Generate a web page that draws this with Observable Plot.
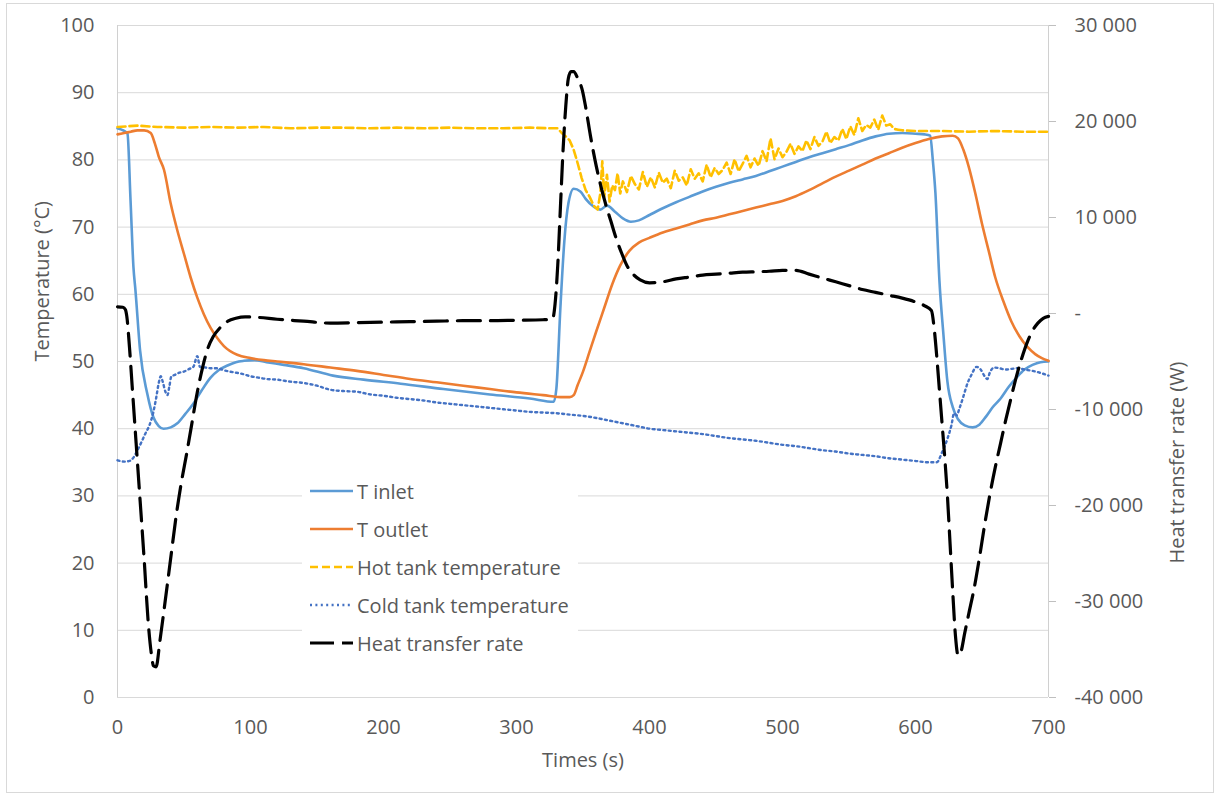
<!DOCTYPE html>
<html><head><meta charset="utf-8">
<script src="https://cdn.jsdelivr.net/npm/d3@7"></script>
<script src="https://cdn.jsdelivr.net/npm/@observablehq/plot@0.6"></script>
<style>
body{margin:0;background:#fff;}
#wrap{position:relative;width:1217px;height:796px;font-family:"Open Sans",sans-serif;color:#595959;overflow:hidden;}
#border{position:absolute;left:6px;top:3px;width:1206px;height:788px;border:1px solid #d9d9d9;pointer-events:none;}
#legend{position:absolute;left:302px;top:470px;width:276px;height:195px;background:#fff;}
.row{position:absolute;left:0;height:38px;display:flex;align-items:center;font-size:20px;white-space:nowrap;}
.row svg{margin-left:8px;margin-right:4px;}
</style></head>
<body><div id="wrap"><div id="chart"></div><div id="legend"></div><div id="border"></div></div>
<script>
// ---- axes / ticks ----
const xTicks = [0,100,200,300,400,500,600,700];
const leftTicks = [0,10,20,30,40,50,60,70,80,90,100];
const rightTicks = [-40000,-30000,-20000,-10000,0,10000,20000,30000];
const rightMin = -40000, rightMax = 30000;
const xTitle = "Times (s)";
const yLeftTitle = "Temperature (°C)";
const yRightTitle = "Heat transfer rate (W)";
const legendLabels = ["T inlet","T outlet","Hot tank temperature","Cold tank temperature","Heat transfer rate"];

// ---- T inlet ----
const inletT = [0,3,6,7.5,9.8,12,13.5,17,22.4,27,31,34.6,40,45,51,57,63,70,76,82.7,89,95,103,112,125,140,162,185,213,245,280,310,328,330,333,336,339,343,348,352,357,363,368,374,380,386,392,400,410,420,430,440,450,460,470,480,490,500,510,520,530,540,550,560,570,580,590,600,607,611,613,615,618,621,624,628,632,637,643,648,653,658,664,670,676,682,688,694,700];
const inletV = [84.7,84.5,84.2,83.9,74,64,60.6,51.6,45.2,41.7,40.4,40,40.2,40.8,42.2,43.7,45.6,47.6,48.7,49.4,49.9,50.1,50.2,49.9,49.5,49,47.9,47.3,46.7,45.9,45.1,44.5,44,46,58,68,73.5,75.7,75.3,74.2,73.2,72.6,73.2,72.3,71.3,70.8,71,71.8,72.8,73.7,74.5,75.3,76,76.6,77.1,77.6,78.3,79,79.7,80.4,81,81.6,82.2,82.9,83.5,83.9,84,83.9,83.8,83.6,80,75,62,54,47,43.2,41.4,40.5,40.2,40.6,41.8,43.2,44.5,46.2,47.6,48.8,49.5,49.9,50];

// ---- T outlet ----
const outletT = [0,5,10,15,20,25,28,31,35,40,45,50,55,60,65,70,75,80,90,100,110,120,140,160,180,200,220,240,260,280,300,320,335,340,343,346,350,355,360,366,372,378,385,392,400,410,420,430,440,450,460,470,480,490,500,510,520,530,540,550,560,570,580,590,600,610,620,628,632,636,640,645,650,655,660,666,672,678,684,690,695,700];
const outletV = [83.8,84,84.2,84.4,84.4,84,82.5,80.5,78.5,73.5,69.5,66,62.5,59.5,57,55,53.5,52.3,51,50.5,50.2,50,49.6,49.1,48.6,48,47.4,46.9,46.4,45.9,45.4,45,44.7,44.7,45,46.5,48.5,51.5,54.5,58,61.5,64.3,66.5,67.7,68.4,69.2,69.8,70.4,71,71.4,71.9,72.4,72.9,73.4,73.9,74.6,75.5,76.5,77.5,78.4,79.3,80.2,81,81.8,82.5,83.1,83.5,83.6,83.2,81.5,79,75,70.5,66.5,62.5,59,56,53.8,52.2,51.1,50.5,50.1];

// ---- Hot tank temperature ----
const hotT = [0,15,30,50,70,90,110,130,150,170,190,210,230,250,270,290,310,325,331,334,337,340,343,346,349,352,355,358,361,363,364.5,366,368,370,372,374,376,378,380,383,386,389,392,395,398,401,404,407,410,413,416,419,422,425,428,431,434,437,440,443,446,449,452,455,458,461,464,467,470,473,476,479,482,485,488,491,494,497,500,503,506,509,512,515,518,521,524,527,530,533,536,539,542,545,548,551,554,557,560,563,566,569,572,575,578,581,584,587,590,600,620,640,660,680,700];
const hotV = [84.9,85.1,84.9,84.8,84.9,84.8,84.9,84.7,84.8,84.8,84.7,84.8,84.7,84.8,84.7,84.7,84.8,84.7,84.7,84,83.5,82.9,81.5,79.5,77.3,75.5,74.5,73.2,72.6,75,79.8,74.5,77.8,73.8,76.2,75.5,78,75,76.8,75.2,77.6,76.4,75.6,78.2,76,77.4,75.9,78.1,76.6,77.2,75.8,78.4,76.9,77.4,76.2,78.6,77.2,78,76.8,79.3,77.4,78.8,77.9,78.5,79.6,77.9,80.1,78.3,79.4,80.6,78.9,80.2,79.1,81.3,79.8,83.2,80.1,81.7,80.4,81.2,82.4,80.9,82,81.3,82.9,81.6,83.4,82.1,82.7,84.2,82.5,83.4,82.9,84.6,83.1,85,83.7,86.2,84.3,85.2,84.8,86,84.5,86.6,85.1,85.3,84.6,84.5,84.4,84.3,84.3,84.2,84.3,84.2,84.2];

// ---- Cold tank temperature ----
const coldT = [0,5,9,12,15,18,21,24,27,29,31,32.5,34,36,37.6,39,40.5,43,46,50,54,57,60,62,66,70,75,80,87,93,100,106,112,120,130,140,150,160,170,180,190,200,210,220,230,240,250,260,270,280,290,300,310,320,330,340,350,360,370,380,390,400,410,420,430,440,450,460,470,480,490,500,510,520,530,540,550,560,570,580,590,600,610,616,620,624,627,629,631,633,636,639,642,646,649,652,654,656,659,663,668,672,677,682,688,694,700];
const coldV = [35.3,35.1,35.2,35.7,36.8,38,39.3,40.5,42.5,44.5,46.8,47.8,47,45.5,45,46.3,47.8,48,48.3,48.5,48.9,49.2,50.8,49.2,49.1,49,49,48.7,48.4,48.2,47.8,47.6,47.4,47.3,47,46.8,46.4,45.8,45.6,45.5,45.1,44.9,44.6,44.4,44.2,43.9,43.7,43.5,43.3,43.1,42.9,42.7,42.5,42.4,42.3,42.1,41.9,41.6,41.2,40.8,40.4,40,39.8,39.6,39.4,39.2,38.9,38.6,38.4,38.2,37.9,37.6,37.4,37.1,36.8,36.6,36.3,36.1,35.9,35.6,35.4,35.2,35,35,36.5,38.5,40.5,42.3,42,43,44.8,46.7,48,49.2,48.8,47.8,47.4,48.4,49.1,49,48.8,48.9,49,48.8,48.6,48.3,47.9];

// ---- Heat transfer rate (W, right axis) ----
const heatT = [0,4,6,7,9,11,14,17,20,23,25.5,27,29,32,36,40,44,48,52,55,60,64,68,72,77,83,89,96,105,120,140,160,180,200,220,240,260,280,300,320,327,329,331,333,335,337,339,341,343,346,349.6,352,355.6,359,363,367,371,375,379,383,387,393,400,410,420,430,440,450,460,470,480,490,500,510,520,530,540,550,560,570,580,590,600,607,612,614,616,618,620,622,624,626,628,630,632,634,637,640,644,648,652,656,660,664,668,672,676,680,684,688,692,696,700];
const heatV = [700,650,400,-300,-3500,-7500,-13500,-19500,-25500,-32000,-35500,-36700,-36800,-34000,-29800,-25500,-21200,-17600,-14600,-12200,-8200,-5600,-3600,-2400,-1500,-800,-500,-350,-400,-600,-800,-1000,-950,-900,-850,-800,-750,-750,-700,-650,-600,1000,5000,11000,17000,21500,24500,25200,25200,24500,23200,21500,18500,16000,13500,11400,9600,7800,6300,5000,4200,3500,3200,3300,3600,3800,4000,4100,4200,4300,4350,4400,4500,4500,4100,3700,3300,2900,2500,2200,1900,1600,1200,800,300,-1500,-4500,-8000,-11500,-15000,-19000,-24000,-29000,-33500,-35600,-35300,-33300,-31300,-28700,-25500,-22000,-18800,-16000,-13500,-11000,-8700,-6500,-4600,-3000,-1800,-1000,-500,-300];

// ---- helpers ----
const zip = (ts, vs) => ts.map((t, i) => ({t, v: vs[i]}));
const toTemp = w => (w - rightMin) / (rightMax - rightMin) * 100;
const fmtW = w => w === 0 ? "-" : (w < 0 ? "-" : "") + String(Math.abs(w)).replace(/\B(?=(\d{3})+(?!\d))/g, " ");

const styles = [
  {stroke:"#5B9BD5", strokeWidth:2.6, dash:null},
  {stroke:"#ED7D31", strokeWidth:2.6, dash:null},
  {stroke:"#FFC000", strokeWidth:2.6, dash:"8,4"},
  {stroke:"#4472C4", strokeWidth:2.4, dash:"2,3.4"},
  {stroke:"#000000", strokeWidth:3.2, dash:"23,10"}
];

const series = [
  zip(inletT, inletV),
  zip(outletT, outletV),
  zip(hotT, hotV),
  zip(coldT, coldV),
  zip(heatT, heatV.map(toTemp))
];

const lineMarks = series.map((d, i) => Plot.line(d, {
  x: "t", y: "v", stroke: styles[i].stroke, strokeWidth: styles[i].strokeWidth,
  strokeDasharray: styles[i].dash || undefined,
  curve: i === 2 ? "linear" : "monotone-x"
}));

const chart = Plot.plot({
  width: 1217, height: 796,
  marginLeft: 117, marginRight: 169, marginTop: 25, marginBottom: 99,
  x: {domain: [0, 700], label: null},
  y: {domain: [0, 100], label: null},
  style: {fontFamily: "'Open Sans', sans-serif", fontSize: "20px", background: "white", color: "#595959"},
  marks: [
    Plot.gridY(leftTicks, {stroke: "#d9d9d9", strokeOpacity: 1, strokeWidth: 1}),
    Plot.ruleX([0, 700], {stroke: "#d0d0d0", strokeWidth: 1}),
    Plot.axisY({anchor: "left", ticks: leftTicks, tickSize: 0, tickPadding: 23, label: null, fill: "#595959"}),
    Plot.axisY({anchor: "right", ticks: rightTicks.map(toTemp), tickFormat: d => fmtW(Math.round(d / 100 * (rightMax - rightMin) + rightMin)), tickSize: 7, tickPadding: 19, label: null, fill: "#595959", stroke: "#bfbfbf"}),
    Plot.axisX({ticks: xTicks, tickSize: 0, tickPadding: 22, label: null, fill: "#595959"}),
    ...lineMarks,
    Plot.text([yLeftTitle], {text: d => d, frameAnchor: "left", dx: -75, rotate: -90, fill: "#595959", fontSize: 20}),
    Plot.text([yRightTitle], {text: d => d, frameAnchor: "right", dx: 129, rotate: -90, fill: "#595959", fontSize: 20}),
    Plot.text([xTitle], {text: d => d, frameAnchor: "bottom", dy: 69, fill: "#595959", fontSize: 20})
  ]
});
document.getElementById("chart").appendChild(chart);

// ---- legend ----
const legend = document.getElementById("legend");
legendLabels.forEach((label, i) => {
  const row = document.createElement("div");
  row.className = "row";
  row.style.top = (2 + i * 38) + "px";
  const s = styles[i];
  const dash = i === 4 ? "24,8" : (s.dash || "none");
  row.innerHTML = `<svg width="43" height="10"><line x1="0" x2="43" y1="5" y2="5" stroke="${s.stroke}" stroke-width="${s.strokeWidth}" stroke-dasharray="${dash}"/></svg><span>${label}</span>`;
  legend.appendChild(row);
});
</script>
</body></html>
